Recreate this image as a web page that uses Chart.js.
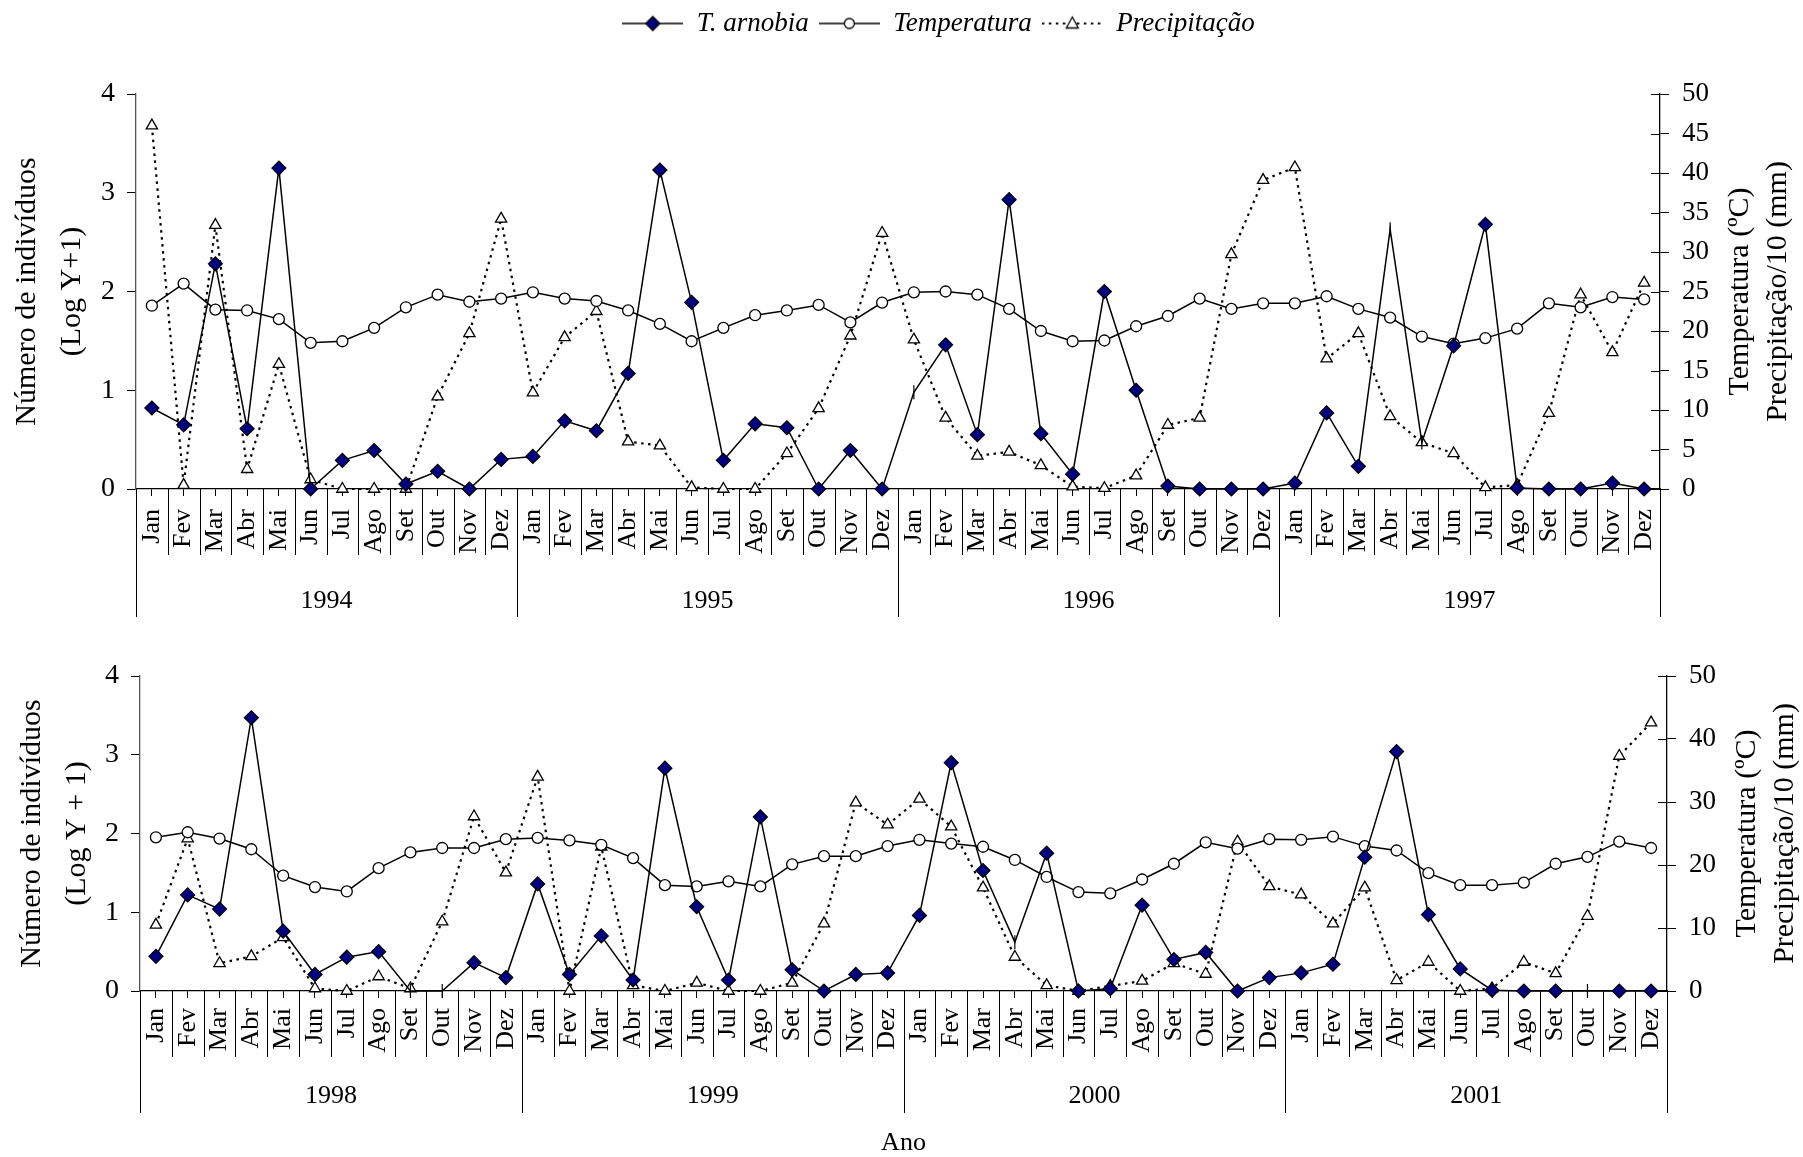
<!DOCTYPE html>
<html>
<head>
<meta charset="utf-8">
<script src="https://cdn.jsdelivr.net/npm/chart.js@4/dist/chart.umd.min.js"></script>
<style>
  html, body { margin: 0; padding: 0; background: #fff; }
  #wrap { position: relative; width: 1803px; height: 1157px; }
  #chartTop { position: absolute; left: 0; top: 0; }
  #chartBottom { position: absolute; left: 0; top: 640px; }
</style>
</head>
<body>
<div id="wrap">
  <canvas id="chartTop" width="1803" height="640" style="width:1803px;height:640px"></canvas>
  <canvas id="chartBottom" width="1803" height="517" style="width:1803px;height:517px"></canvas>
</div>
<script>
// data ------------------------------------
const months = ['Jan', 'Fev', 'Mar', 'Abr', 'Mai', 'Jun', 'Jul', 'Ago', 'Set', 'Out', 'Nov', 'Dez'];
const yearsTop = ['1994', '1995', '1996', '1997'];
const yearsBottom = ['1998', '1999', '2000', '2001'];
const seriesNames = ['T. arnobia', 'Temperatura', 'Precipitação'];

// 1994-1997
const arnobiaTop = [
  0.82, 0.65, 2.28, 0.61, 3.25, 0, 0.29, 0.39, 0.05, 0.18, 0, 0.30,
  0.33, 0.69, 0.59, 1.17, 3.23, 1.89, 0.29, 0.66, 0.62, 0, 0.39, 0,
  0.98, 1.46, 0.55, 2.93, 0.56, 0.15, 2.0, 1.0, 0.03, 0, 0, 0,
  0.06, 0.77, 0.23, 2.63, 0.47, 1.45, 2.68, 0.01, 0, 0, 0.06, 0
];
const tempTop = [
  23.2, 26.0, 22.7, 22.6, 21.5, 18.5, 18.7, 20.4, 23.0, 24.6, 23.7, 24.1,
  24.9, 24.1, 23.8, 22.6, 20.9, 18.7, 20.4, 22.0, 22.6, 23.3, 21.1, 23.6,
  24.9, 25.0, 24.6, 22.8, 20.0, 18.7, 18.8, 20.6, 21.9, 24.1, 22.8, 23.5,
  23.5, 24.4, 22.8, 21.7, 19.3, 18.4, 19.1, 20.3, 23.5, 23.0, 24.3, 24.0
];
const precTop = [
  46.0, 0.5, 33.4, 2.5, 15.8, 1.2, 0, 0, 0, 11.7, 19.7, 34.2,
  12.2, 19.2, 22.5, 6.0, 5.5, 0.2, 0, 0, 4.5, 10.2, 19.4, 32.4,
  18.9, 9.0, 4.2, 4.7, 3.0, 0.3, 0.1, 1.7, 8.1, 9.0, 29.7, 39.1,
  40.7, 16.5, 19.7, 9.2, 5.9, 4.5, 0.2, 0.5, 9.6, 24.6, 17.3, 26.1
];
const noMarkerTop = [24, 39, 40]; // pontos sem losango no original

// 1998-2001
const arnobiaBottom = [
  0.44, 1.22, 1.04, 3.47, 0.76, 0.21, 0.43, 0.50, 0, 0, 0.36, 0.17,
  1.36, 0.21, 0.70, 0.14, 2.83, 1.07, 0.14, 2.21, 0.27, 0, 0.21, 0.23,
  0.96, 2.90, 1.53, 0.62, 1.75, 0, 0.03, 1.09, 0.40, 0.49, 0, 0.17,
  0.23, 0.34, 1.70, 3.04, 0.97, 0.28, 0.01, 0, 0, 0, 0, 0
];
const tempBottom = [
  24.4, 25.2, 24.2, 22.5, 18.3, 16.5, 15.8, 19.5, 22.0, 22.7, 22.7, 24.1,
  24.3, 23.9, 23.2, 21.1, 16.8, 16.6, 17.4, 16.6, 20.1, 21.4, 21.4, 23.0,
  24.0, 23.4, 22.9, 20.8, 18.1, 15.7, 15.5, 17.7, 20.2, 23.6, 22.6, 24.1,
  24.0, 24.5, 23.0, 22.3, 18.7, 16.8, 16.8, 17.2, 20.2, 21.3, 23.7, 22.7
];
const precBottom = [
  10.5, 24.2, 4.4, 5.5, 8.5, 0.4, 0, 2.3, 0.4, 11.0, 27.7, 18.8,
  34.0, 0, 22.9, 0.9, 0, 1.3, 0, 0, 1.3, 10.7, 29.9, 26.4,
  30.5, 26.1, 16.4, 5.4, 0.9, 0, 0.8, 1.6, 4.4, 2.7, 23.7, 16.6,
  15.3, 10.7, 16.4, 1.7, 4.6, 0, 0.4, 4.6, 2.8, 11.9, 37.3, 42.6
];
const noMarkerBottom = [8, 9, 27, 45];

const serif = '"Liberation Serif", "Times New Roman", serif';

// legend icons (line + marker) ------------------------------------
function legendIcon(kind) {
  const c = document.createElement('canvas');
  c.width = 61; c.height = 20;
  const g = c.getContext('2d');
  g.strokeStyle = '#000';
  g.lineWidth = 1.6;
  if (kind === 2) { g.setLineDash([2.5, 4.5]); g.lineWidth = 2.2; }
  g.beginPath(); g.moveTo(0, 10); g.lineTo(61, 10); g.stroke();
  g.setLineDash([]);
  g.lineWidth = 1.3;
  g.beginPath();
  if (kind === 0) {
    g.moveTo(30.5, 3); g.lineTo(37.5, 10); g.lineTo(30.5, 17); g.lineTo(23.5, 10); g.closePath();
    g.fillStyle = '#000080';
  } else if (kind === 1) {
    g.arc(30.5, 10, 5, 0, Math.PI * 2);
    g.fillStyle = '#fff';
  } else {
    g.moveTo(30.5, 3.5); g.lineTo(36.5, 14.5); g.lineTo(24.5, 14.5); g.closePath();
    g.fillStyle = '#fff';
  }
  g.fill(); g.stroke();
  return c;
}
const icons = [legendIcon(0), legendIcon(1), legendIcon(2)];

// fixed legend height + small shift to the right
const legendBox = {
  id: 'legendBox',
  beforeInit(chart, args, opts) {
    if (!chart.legend) return;
    const fit = chart.legend.fit;
    chart.legend.fit = function () {
      fit.call(this);
      if (this.options.display) this.height = opts.height;
    };
  },
  afterLayout(chart, args, opts) {
    if (!chart.legend || !chart.legend.options.display) return;
    chart.legend.left += opts.shift;
    chart.legend.right += opts.shift;
  }
};

// month separators, year groups, right title ------------------------------------
const decor = {
  id: 'decor',
  afterDraw(chart, args, opts) {
    const { ctx, chartArea: a, scales: { x, y2 } } = chart;
    const n = chart.data.labels.length;
    const w = (a.right - a.left) / n;
    ctx.save();
    ctx.strokeStyle = '#000';
    ctx.lineWidth = 1;
    ctx.beginPath();
    for (let i = 0; i <= n; i++) {
      const xp = Math.round(x.getPixelForValue(Math.min(i, n - 1)) + (i === n ? w / 2 : -w / 2)) + 0.5;
      const len = (i % 12 === 0) ? opts.yearLen : opts.sepLen;
      ctx.moveTo(xp, a.bottom);
      ctx.lineTo(xp, a.bottom + len);
    }
    // right axis ticks cross the axis
    y2.ticks.forEach(t => {
      const yp = Math.round(y2.getPixelForValue(t.value)) + 0.5;
      ctx.moveTo(a.right - 9, yp);
      ctx.lineTo(a.right, yp);
    });
    ctx.stroke();

    // year labels
    ctx.fillStyle = '#000';
    ctx.font = '26px ' + serif;
    ctx.textAlign = 'center';
    ctx.textBaseline = 'middle';
    opts.years.forEach((yr, g) => {
      const xc = (x.getPixelForValue(g * 12) + x.getPixelForValue(g * 12 + 11)) / 2;
      ctx.fillText(yr, xc, a.bottom + opts.yearY);
    });

    // right axis title, reading bottom to top
    ctx.font = '30px ' + serif;
    const cy = (a.top + a.bottom) / 2;
    opts.rightTitle.forEach((line, k) => {
      ctx.save();
      ctx.translate(a.right + opts.rightTitleX + k * 38, cy);
      ctx.rotate(-Math.PI / 2);
      ctx.fillText(line, 0, 0);
      ctx.restore();
    });
    ctx.restore();
  }
};

function buildChart(canvasId, cfg) {
  const labels = [];
  for (let y = 0; y < 4; y++) labels.push(...months);

  const markerStyle = c => cfg.noMarker.includes(c.dataIndex) ? 'line' : 'rectRot';
  const markerRot = c => cfg.noMarker.includes(c.dataIndex) ? 90 : 0;

  return new Chart(document.getElementById(canvasId), {
    type: 'line',
    data: {
      labels: labels,
      datasets: [{
        label: seriesNames[0],
        data: cfg.arnobia,
        yAxisID: 'y',
        borderColor: '#000',
        borderWidth: 1.5,
        backgroundColor: '#000080',
        pointBackgroundColor: '#000080',
        pointBorderColor: '#000',
        pointBorderWidth: 1.2,
        pointStyle: markerStyle,
        rotation: markerRot,
        pointRadius: 7,
        clip: false
      }, {
        label: seriesNames[1],
        data: cfg.temp,
        yAxisID: 'y2',
        borderColor: '#000',
        borderWidth: 1.5,
        backgroundColor: '#fff',
        pointBackgroundColor: '#fff',
        pointBorderColor: '#000',
        pointBorderWidth: 1.3,
        pointStyle: 'circle',
        pointRadius: 5.5,
        clip: false
      }, {
        label: seriesNames[2],
        data: cfg.prec,
        yAxisID: 'y2',
        borderColor: '#000',
        borderWidth: 2.2,
        borderDash: [2.5, 4.5],
        backgroundColor: '#fff',
        pointBackgroundColor: '#fff',
        pointBorderColor: '#000',
        pointBorderWidth: 1.3,
        pointStyle: 'triangle',
        pointRadius: 6.5,
        clip: false
      }]
    },
    options: {
      responsive: false,
      animation: false,
      events: [],
      layout: { padding: { top: cfg.padTop, left: 0, right: 0, bottom: 0 } },
      plugins: {
        tooltip: { enabled: false },
        legend: {
          display: cfg.showLegend,
          position: 'top',
          labels: {
            usePointStyle: true,
            pointStyleWidth: 61,
            padding: 10,
            color: '#000',
            font: { family: serif, size: 27, style: 'italic' },
            generateLabels: chart => chart.data.datasets.map((ds, i) => ({
              text: ds.label,
              pointStyle: icons[i],
              fillStyle: '#fff',
              strokeStyle: '#000',
              lineWidth: 0,
              fontColor: '#000',
              hidden: false,
              datasetIndex: i
            }))
          }
        },
        legendBox: { height: 94, shift: 37 },
        decor: {
          years: cfg.years,
          sepLen: 66,
          yearLen: cfg.yearLen,
          yearY: cfg.yearY,
          rightTitle: ['Temperatura (ºC)', 'Precipitação/10 (mm)'],
          rightTitleX: 80
        }
      },
      scales: {
        x: {
          type: 'category',
          offset: true,
          grid: { offset: false, drawOnChartArea: false, drawTicks: true, tickLength: 7, color: '#000', lineWidth: 1 },
          border: { display: true, color: '#000', width: 1.3 },
          ticks: {
            autoSkip: false, minRotation: 90, maxRotation: 90,
            padding: cfg.labelPad, color: '#000',
            font: { family: serif, size: 26 }
          },
          title: {
            display: cfg.xTitle !== '',
            text: cfg.xTitle,
            color: '#000',
            font: { family: serif, size: 26, lineHeight: 1.1 },
            padding: { top: 0, bottom: 0 }
          },
          afterFit: s => { s.height = cfg.xHeight; }
        },
        y: {
          position: 'left',
          min: 0, max: 4,
          ticks: { stepSize: 1, padding: 12, color: '#000', font: { family: serif, size: 28 } },
          grid: { drawOnChartArea: false, tickLength: 9, color: '#000' },
          border: { color: '#555', width: 1.3 },
          title: {
            display: true,
            text: cfg.leftTitle,
            color: '#000',
            font: { family: serif, size: 30, lineHeight: 1.5 },
            padding: { top: cfg.leftTitlePad, bottom: 0 }
          },
          afterFit: s => { s.width = cfg.leftW; }
        },
        y2: {
          position: 'right',
          min: 0, max: 50,
          ticks: { stepSize: 5, padding: 13, color: '#000', font: { family: serif, size: 27 } },
          grid: { drawOnChartArea: false, tickLength: 9, color: '#000' },
          border: { color: '#000', width: 1.3 },
          afterFit: s => { s.width = cfg.rightW; }
        }
      }
    },
    plugins: [legendBox, decor]
  });
}

let chartTop = buildChart('chartTop', {
  arnobia: arnobiaTop, temp: tempTop, prec: precTop, noMarker: noMarkerTop,
  years: yearsTop, showLegend: true, padTop: 0,
  xHeight: 151, labelPad: 13, yearLen: 128, yearY: 112, xTitle: '',
  leftTitle: ['Número de indivíduos', '(Log Y+1)'], leftTitlePad: 5,
  leftW: 136, rightW: 143
});

let chartBottom = buildChart('chartBottom', {
  arnobia: arnobiaBottom, temp: tempBottom, prec: precBottom, noMarker: noMarkerBottom,
  years: yearsBottom, showLegend: false, padTop: 36,
  xHeight: 166, labelPad: 10, yearLen: 122, yearY: 105, xTitle: 'Ano',
  leftTitle: ['Número de indivíduos', '(Log Y + 1)'], leftTitlePad: 10,
  leftW: 140, rightW: 136
});
</script>
</body>
</html>
